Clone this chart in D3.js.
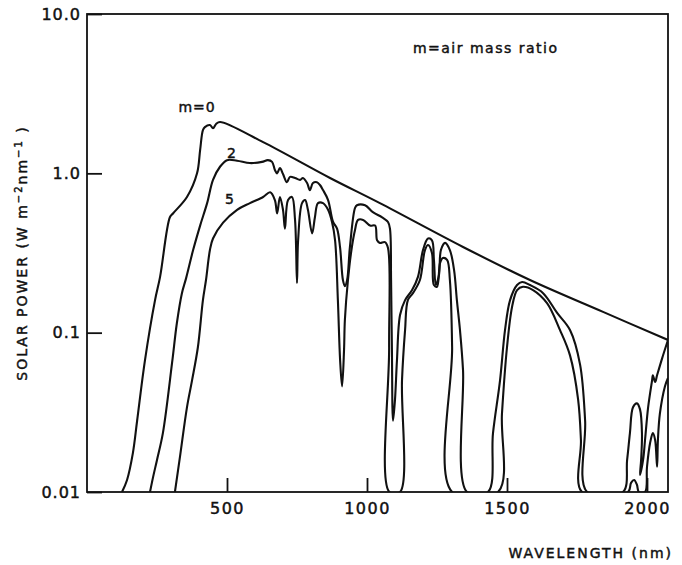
<!DOCTYPE html>
<html>
<head>
<meta charset="utf-8">
<script src="https://cdn.jsdelivr.net/npm/d3@7"></script>
<style>
  body { margin: 0; background: #fff; }
  svg text { font-family: "DejaVu Sans", sans-serif; fill: #111; stroke: #111; stroke-width: 0.45px; }
</style>
</head>
<body>
<svg id="chart" width="682" height="565"></svg>
<script>
const xTicks = [500, 1000, 1500, 2000];
const yTicks = [0.01, 0.1, 1, 10];
const yTickLabels = ["0.01", "0.1", "1.0", "10.0"];

// [wavelength nm, solar power W m-2 nm-1]
const m0 = [
  [125, 0.01], [143, 0.0119], [164, 0.0176], [179, 0.028], [207, 0.067], [243, 0.16],
  [261, 0.224], [296, 0.53], [307, 0.56], [357, 0.71], [393, 1.0], [404, 1.4],
  [414, 1.87], [421, 1.95], [439, 2.01], [450, 1.92], [461, 2.04], [475, 2.1],
  [629, 1.57], [868, 0.935], [1046, 0.65], [1343, 0.345], [1582, 0.214],
  [1843, 0.135], [2075, 0.09]
];

const m2 = [
  [225, 0.01], [236, 0.0124], [250, 0.0159], [271, 0.0234], [304, 0.065], [321, 0.115],
  [339, 0.177], [354, 0.22], [379, 0.33], [404, 0.47], [429, 0.65], [450, 0.91],
  [475, 1.1], [500, 1.21], [536, 1.2], [582, 1.16], [625, 1.18], [646, 1.21],
  [661, 1.18], [671, 1.05], [679, 1.0], [689, 1.08], [700, 0.99], [714, 0.88],
  [725, 0.95], [743, 0.935], [761, 0.91], [771, 0.935], [786, 0.87], [796, 0.785],
  [807, 0.87], [821, 0.88], [832, 0.845], [843, 0.785], [861, 0.68], [879, 0.495],
  [893, 0.45], [904, 0.34], [914, 0.214], [921, 0.196], [929, 0.214], [939, 0.345],
  [957, 0.605], [964, 0.63], [993, 0.63], [1021, 0.57], [1054, 0.53], [1075, 0.495],
  [1082, 0.45], [1086, 0.214], [1089, 0.078], [1093, 0.028], [1100, 0.038],
  [1107, 0.067], [1118, 0.129], [1136, 0.16], [1161, 0.185], [1182, 0.224],
  [1200, 0.33], [1218, 0.39], [1232, 0.38], [1239, 0.286], [1246, 0.199],
  [1257, 0.23], [1264, 0.33], [1279, 0.366], [1296, 0.33], [1311, 0.247],
  [1321, 0.16], [1332, 0.104], [1343, 0.058], [1357, 0.01], [1432, 0.01],
  [1450, 0.0234], [1475, 0.05], [1493, 0.104], [1511, 0.16], [1536, 0.199],
  [1554, 0.208], [1582, 0.199], [1629, 0.177], [1679, 0.133], [1725, 0.104],
  [1761, 0.063], [1779, 0.028], [1786, 0.01], [1914, 0.01], [1929, 0.0159],
  [1939, 0.0234], [1950, 0.034], [1964, 0.036], [1975, 0.033], [1982, 0.0234],
  [1979, 0.0159], [1975, 0.0128], [1986, 0.0159], [1993, 0.0212], [2004, 0.034],
  [2018, 0.05], [2021, 0.054], [2029, 0.049], [2036, 0.054], [2054, 0.069],
  [2075, 0.09]
];

const m5 = [
  [314, 0.01], [332, 0.0166], [357, 0.034], [375, 0.05], [396, 0.081], [414, 0.16],
  [425, 0.214], [439, 0.33], [450, 0.39], [486, 0.49], [536, 0.59], [582, 0.65],
  [629, 0.71], [654, 0.76], [671, 0.68], [679, 0.56], [689, 0.71], [700, 0.59],
  [707, 0.45], [718, 0.68], [732, 0.71], [743, 0.51], [750, 0.205], [754, 0.38],
  [768, 0.65], [779, 0.68], [789, 0.59], [804, 0.42], [814, 0.53], [825, 0.65],
  [843, 0.65], [861, 0.59], [875, 0.495], [886, 0.38], [896, 0.16], [904, 0.067],
  [911, 0.046], [918, 0.078], [921, 0.12], [932, 0.214], [946, 0.345], [957, 0.44],
  [968, 0.51], [986, 0.51], [1011, 0.47], [1029, 0.47], [1036, 0.38], [1046, 0.366],
  [1064, 0.37], [1075, 0.34], [1079, 0.081], [1080, 0.01], [1118, 0.01],
  [1125, 0.05], [1136, 0.104], [1146, 0.16], [1164, 0.177], [1189, 0.214],
  [1207, 0.33], [1218, 0.355], [1232, 0.316], [1239, 0.199], [1250, 0.194],
  [1261, 0.274], [1271, 0.294], [1286, 0.286], [1296, 0.214], [1304, 0.081],
  [1304, 0.01], [1468, 0.01], [1482, 0.031], [1500, 0.081], [1518, 0.145],
  [1536, 0.185], [1557, 0.194], [1593, 0.185], [1643, 0.153], [1689, 0.104],
  [1725, 0.072], [1754, 0.038], [1764, 0.0212], [1768, 0.01], [1932, 0.01],
  [1943, 0.0114], [1954, 0.0119], [1964, 0.0111], [1971, 0.01], [1993, 0.01],
  [2000, 0.0144], [2011, 0.0203], [2021, 0.0234], [2029, 0.0212], [2036, 0.0144],
  [2039, 0.0212], [2046, 0.031], [2064, 0.046], [2075, 0.052]
];

// curve names, anchored in data units
const curveLabels = [
  { text: "m=0", nm: 393, v: 2.43 },
  { text: "2", nm: 518, v: 1.25 },
  { text: "5", nm: 511, v: 0.64 }
];

const svg = d3.select("#chart");
const margin = { top: 14, right: 14, bottom: 73, left: 87 };
const W = +svg.attr("width"), H = +svg.attr("height");

const x = d3.scaleLinear().domain([0, 2075]).range([margin.left, W - margin.right]);
const y = d3.scaleLog().domain([0.01, 10]).range([H - margin.bottom, margin.top]);

svg.append("clipPath").attr("id", "plot")
  .append("rect")
  .attr("x", x.range()[0]).attr("y", y.range()[1])
  .attr("width", x.range()[1] - x.range()[0])
  .attr("height", y.range()[0] - y.range()[1]);

// axes, ticks pointing inward
const xAxis = svg.append("g")
  .attr("transform", `translate(0,${y.range()[0]})`)
  .call(d3.axisBottom(x).tickValues(xTicks).tickFormat(d3.format("d"))
    .tickSizeInner(-14).tickSizeOuter(0).tickPadding(11));
xAxis.select(".domain").remove();
xAxis.selectAll("text").style("font-size", "16px").style("letter-spacing", "1.5px");

const yAxis = svg.append("g")
  .attr("transform", `translate(${x.range()[0]},0)`)
  .call(d3.axisLeft(y).tickValues(yTicks).tickFormat((d, i) => yTickLabels[i])
    .tickSizeInner(-15).tickSizeOuter(0).tickPadding(6));
yAxis.select(".domain").remove();
yAxis.selectAll("text").style("font-size", "16px").style("letter-spacing", "1px");

svg.selectAll(".tick line").attr("stroke", "#111").attr("stroke-width", 1.8);

// frame
svg.append("rect")
  .attr("x", x.range()[0]).attr("y", y.range()[1])
  .attr("width", x.range()[1] - x.range()[0])
  .attr("height", y.range()[0] - y.range()[1])
  .attr("fill", "none").attr("stroke", "#111").attr("stroke-width", 1.8);

const line = d3.line()
  .x(d => x(d[0]))
  .y(d => y(d[1]))
  .curve(d3.curveCatmullRom.alpha(0.5));

svg.append("g").attr("clip-path", "url(#plot)")
  .selectAll("path")
  .data([m0, m2, m5])
  .join("path")
  .attr("d", line)
  .attr("fill", "none")
  .attr("stroke", "#111")
  .attr("stroke-width", 2.1)
  .attr("stroke-linejoin", "round");

svg.selectAll(".curve-label")
  .data(curveLabels)
  .join("text")
  .attr("class", "curve-label")
  .attr("x", d => x(d.nm))
  .attr("y", d => y(d.v))
  .attr("text-anchor", "middle")
  .style("font-size", "14px")
  .style("letter-spacing", "1px")
  .text(d => d.text);

svg.append("text")
  .attr("x", x(1164)).attr("y", y(5.7))
  .style("font-size", "14px")
  .style("letter-spacing", "1.5px")
  .text("m=air mass ratio");

svg.append("text")
  .attr("x", x.range()[1] + 5).attr("y", 558)
  .attr("text-anchor", "end")
  .style("font-size", "14px")
  .style("letter-spacing", "2px")
  .text("WAVELENGTH (nm)");

const yLabel = svg.append("text")
  .attr("transform", `translate(27,253) rotate(-90)`)
  .attr("text-anchor", "middle")
  .style("font-size", "14px")
  .style("letter-spacing", "2px");
yLabel.append("tspan").text("SOLAR POWER  (W m");
yLabel.append("tspan").attr("baseline-shift", "super").style("font-size", "10px").text("−2");
yLabel.append("tspan").text("nm");
yLabel.append("tspan").attr("baseline-shift", "super").style("font-size", "10px").text("−1");
yLabel.append("tspan").text(" )");
</script>
</body>
</html>
